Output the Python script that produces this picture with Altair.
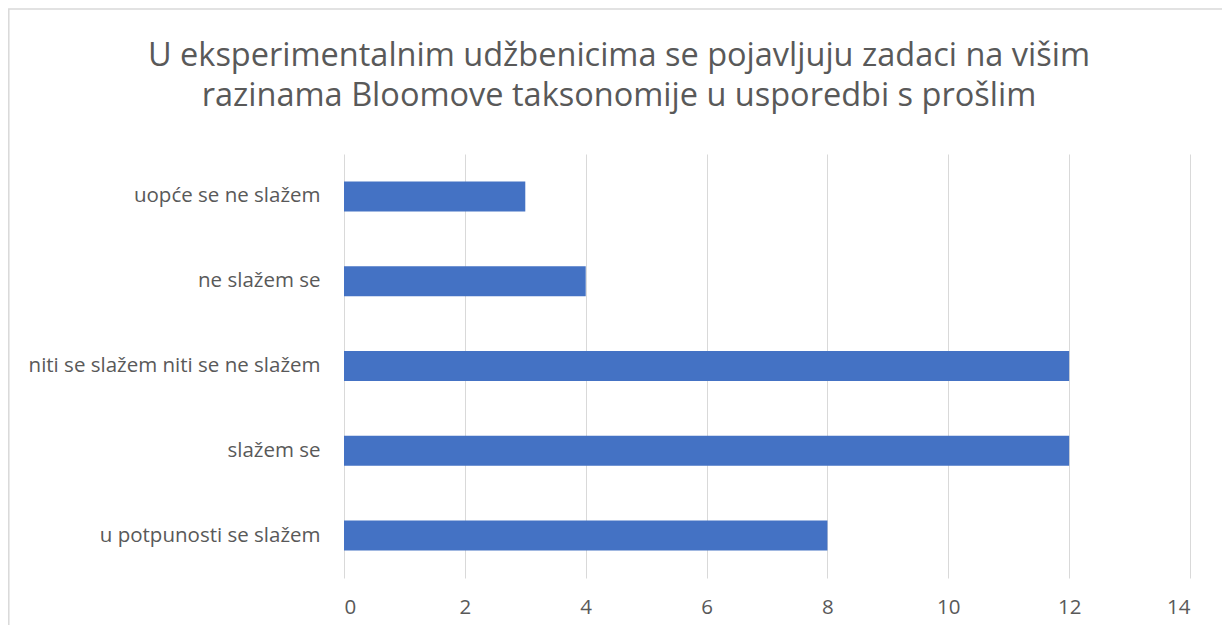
import altair as alt
import pandas as pd

categories = ["uopće se ne slažem", "ne slažem se", "niti se slažem niti se ne slažem", "slažem se", "u potpunosti se slažem"]
values = [3, 4, 12, 12, 8]
x_ticks = [0, 2, 4, 6, 8, 10, 12, 14]
title_lines = ["U eksperimentalnim udžbenicima se pojavljuju zadaci na višim",
               "razinama Bloomove taksonomije u usporedbi s prošlim"]

df = pd.DataFrame({"kategorija": categories, "vrijednost": values})

FONT = "Open Sans"
GREY = "#595959"

border = alt.Chart(pd.DataFrame({"a": [0]})).mark_rect(
    fill="white", fillOpacity=0, stroke="#d9d9d9", strokeWidth=1.5
).encode(
    x=alt.value(-335.2), x2=alt.value(900),
    y=alt.value(-145), y2=alt.value(600)
)

bars = alt.Chart(df).mark_bar(color="#4472C4").encode(
    x=alt.X("vrijednost:Q",
            scale=alt.Scale(domain=[0, 14], nice=False, zero=True),
            axis=alt.Axis(values=x_ticks, title=None, grid=True, gridColor="#d9d9d9",
                          gridWidth=1, domain=False, ticks=False, labelFontSize=20.5,
                          labelFont=FONT, labelColor=GREY, labelPadding=19)),
    y=alt.Y("kategorija:N", sort=categories,
            scale=alt.Scale(paddingInner=0.646, paddingOuter=0.323),
            axis=alt.Axis(title=None, domain=False, ticks=False, grid=False,
                          labelFontSize=20.5, labelFont=FONT, labelColor=GREY,
                          labelPadding=24, labelLimit=400)),
)

chart = alt.layer(border, bars).properties(
    width=846, height=424,
    background="white",
    autosize=alt.AutoSizeParams(type="none"),
    padding={"left": 336, "top": 146, "right": 32, "bottom": 47},
    title=alt.TitleParams(text=title_lines, fontSize=32.5, font=FONT, fontWeight="normal",
                          color=GREY, anchor="middle", frame="group", dx=-148,
                          lineHeight=40, offset=-130, baseline="alphabetic"),
).configure_view(stroke=None)

chart.save("out.html", embed_options={"renderer": "svg", "actions": False})
